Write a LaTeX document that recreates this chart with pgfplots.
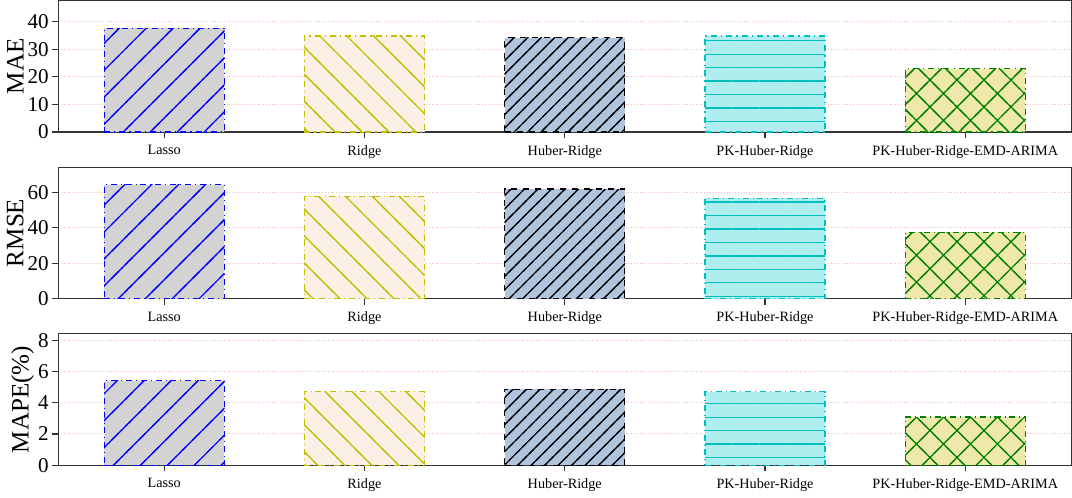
\documentclass[border=0pt]{standalone}
\usepackage{pgfplots}
\pgfplotsset{compat=1.18}
\usepackage{fontspec}
\setmainfont{Liberation Serif}
\usetikzlibrary{patterns.meta}
\definecolor{lgray}{HTML}{D3D3D3}
\definecolor{linen}{HTML}{FAF0E6}
\definecolor{lsteel}{HTML}{B0C4DE}
\definecolor{pturq}{HTML}{AFEEEE}
\definecolor{pgold}{HTML}{EEE8AA}
\definecolor{mply}{HTML}{BFBF00}
\definecolor{mplc}{HTML}{00BFBF}
\definecolor{mplg}{HTML}{008000}
\definecolor{gridpink}{HTML}{F4B8B8}
\pgfplotsset{
  panel/.style={scale only axis, width=505pt, height=65.5pt,
    xmin=-0.53, xmax=4.53, ymin=0,
    xtick={0,1,2,3,4},
    xticklabels={Lasso,Ridge,Huber-Ridge,PK-Huber-Ridge,PK-Huber-Ridge-EMD-ARIMA},
    tick align=outside, xtick pos=bottom, ytick pos=left,
    major tick length=3pt,
    ymajorgrids, major grid style={densely dotted, gridpink, line width=0.5pt},
    axis line style={black!80, line width=0.6pt},
    every tick/.style={black!80, line width=0.6pt},
    x tick label style={font=\fontsize{7.1}{8}\selectfont},
    y tick label style={font=\fontsize{10.5}{12}\selectfont, inner sep=1.5pt},
    ylabel style={font=\fontsize{12.5}{14}\selectfont},
    ylabel shift=-3pt,
    /pgf/number format/assume math mode=true,
    anchor=north west},
  bbar/.style n args={5}{ybar, bar width=0.6, bar shift=0pt, draw=none, solid,
    pattern={#1}, pattern color=#2,
    preaction={fill=#3, draw=none},
    postaction={draw=#4, #5, line width=0.6pt}},
  bA/.style={bbar={Lines[angle=45,distance=9.5pt,line width=0.6pt]}{blue}{lgray}{blue}{dash dot}},
  bB/.style={bbar={Lines[angle=-45,distance=9.5pt,line width=0.6pt]}{mply}{linen}{mply}{dash dot}},
  bC/.style={bbar={Lines[angle=45,distance=4.75pt,line width=0.6pt]}{black}{lsteel}{black}{dashed}},
  bD/.style={bbar={Lines[angle=0,distance=6.7pt,line width=0.7pt]}{mplc}{pturq}{mplc}{dash dot}},
  bE/.style={bbar={Hatch[angle=45,distance=9.5pt,line width=0.6pt]}{mplg}{pgold}{mplg}{dash dot}},
}
\begin{document}
\begin{tikzpicture}
\begin{axis}[panel, at={(0,0)}, ymax=47.6, ytick={0,10,20,30,40}, ylabel={MAE}]
\addplot[bA] coordinates {(0,37.5)};
\addplot[bB] coordinates {(1,34.8)};
\addplot[bC] coordinates {(2,34.1)};
\addplot[bD] coordinates {(3,34.8)};
\addplot[bE] coordinates {(4,22.9)};
\end{axis}
\begin{axis}[panel, at={(0,-83pt)}, ymax=74.3, ytick={0,20,40,60}, ylabel={RMSE}]
\addplot[bA] coordinates {(0,64.3)};
\addplot[bB] coordinates {(1,57.9)};
\addplot[bC] coordinates {(2,61.9)};
\addplot[bD] coordinates {(3,56.7)};
\addplot[bE] coordinates {(4,37.5)};
\end{axis}
\begin{axis}[panel, at={(0,-166pt)}, ymax=8.43, ytick={0,2,4,6,8}, ylabel={MAPE(\%)}]
\addplot[bA] coordinates {(0,5.41)};
\addplot[bB] coordinates {(1,4.72)};
\addplot[bC] coordinates {(2,4.87)};
\addplot[bD] coordinates {(3,4.70)};
\addplot[bE] coordinates {(4,3.08)};
\end{axis}
\end{tikzpicture}
\end{document}
